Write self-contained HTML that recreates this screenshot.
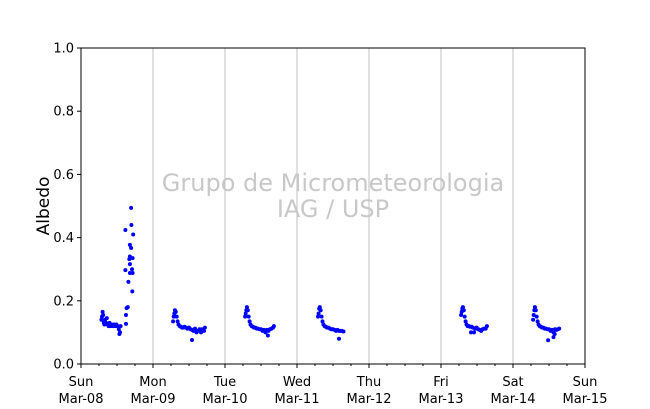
<!DOCTYPE html>
<html><head><meta charset="utf-8"><style>
body{margin:0;background:#fff}
svg{display:block;font-family:"DejaVu Sans","Liberation Sans",sans-serif}
</style></head><body>
<svg id="chart" width="650" height="409">
<rect width="650" height="409" fill="#fff"/>
<g id="grid"></g>
<text x="333" y="191" text-anchor="middle" font-size="24" fill="#c8c8c8">Grupo de Micrometeorologia</text>
<text x="333" y="217" text-anchor="middle" font-size="24" fill="#c8c8c8">IAG / USP</text>
<g id="points"></g>
<rect x="81" y="48" width="504" height="316" fill="none" stroke="#000" stroke-width="1"/>
<g id="axes"></g>
<text transform="translate(49,206) rotate(-90)" text-anchor="middle" font-size="17">Albedo</text>
</svg>
<script>
const dayNames=["Sun","Mon","Tue","Wed","Thu","Fri","Sat","Sun"];
const dayDates=["Mar-08","Mar-09","Mar-10","Mar-11","Mar-12","Mar-13","Mar-14","Mar-15"];
const yTicks=[0,0.2,0.4,0.6,0.8,1.0];
// hours since Mar-08 00:00, albedo
const day0=[[6.8,0.14],[7.0,0.15],[7.2,0.165],[7.4,0.155],[7.6,0.13],[7.8,0.125],[8.0,0.14],[8.3,0.13],[8.6,0.145],[8.9,0.125],[9.2,0.12],[9.5,0.13],[9.8,0.12],[10.2,0.125],[10.6,0.12],[11.0,0.125],[11.4,0.12],[11.8,0.125],[12.2,0.12],[12.6,0.11],[12.8,0.095],[13.0,0.1],[13.2,0.12],[14.8,0.424],[14.8,0.297],[15.0,0.127],[15.0,0.155],[15.2,0.177],[15.6,0.18],[15.8,0.26],[16.3,0.377],[16.3,0.34],[16.1,0.332],[16.3,0.316],[16.3,0.288],[16.7,0.494],[16.8,0.44],[16.7,0.367],[17.2,0.335],[17.0,0.30],[17.2,0.288],[17.1,0.23],[17.4,0.41]];
const day1=[[30.7,0.135],[30.9,0.15],[31.1,0.16],[31.3,0.17],[31.6,0.165],[31.9,0.15],[32.2,0.135],[32.5,0.125],[32.9,0.12],[33.3,0.118],[33.7,0.115],[34.1,0.115],[34.5,0.118],[35,0.115],[35.5,0.112],[36,0.115],[36.5,0.11],[37,0.108],[37.0,0.076],[37.5,0.105],[38,0.112],[38.5,0.1],[39,0.105],[39.5,0.11],[40,0.1],[40.4,0.11],[41,0.105],[41.3,0.115]];
const day2=[[54.7,0.15],[54.9,0.16],[55.1,0.17],[55.3,0.18],[55.6,0.17],[55.9,0.15],[56.2,0.135],[56.5,0.125],[56.9,0.12],[57.3,0.118],[57.7,0.115],[58.1,0.115],[58.6,0.112],[59,0.112],[59.5,0.11],[60,0.11],[60.5,0.105],[61,0.108],[61.5,0.1],[62,0.108],[62.3,0.09],[62.5,0.105],[63,0.11],[63.5,0.112],[64,0.115],[64.3,0.12]];
const day3=[[79.0,0.15],[79.2,0.16],[79.4,0.175],[79.6,0.18],[79.9,0.17],[80.2,0.15],[80.5,0.135],[80.8,0.125],[81.2,0.12],[81.6,0.118],[82,0.115],[82.5,0.115],[83,0.112],[83.5,0.11],[84,0.11],[84.5,0.108],[85,0.105],[85.5,0.108],[86,0.105],[86.0,0.08],[86.5,0.105],[87,0.105],[87.5,0.103]];
const day5=[[126.7,0.155],[126.9,0.165],[127.1,0.175],[127.3,0.18],[127.6,0.17],[127.9,0.15],[128.2,0.135],[128.5,0.125],[128.9,0.12],[129.3,0.12],[129.7,0.118],[130.0,0.1],[130.2,0.118],[130.6,0.115],[131,0.1],[131.4,0.112],[131.9,0.115],[132.4,0.11],[132.9,0.108],[133.4,0.105],[133.9,0.11],[134.4,0.112],[134.9,0.112],[135.3,0.12]];
const day6=[[150.7,0.14],[150.9,0.155],[151.1,0.17],[151.3,0.18],[151.6,0.17],[151.9,0.15],[152.2,0.135],[152.5,0.125],[152.9,0.12],[153.3,0.118],[153.7,0.115],[154.1,0.115],[154.6,0.112],[155,0.112],[155.5,0.11],[155.7,0.075],[156,0.11],[156.5,0.105],[157,0.108],[157.5,0.1],[157.5,0.085],[157.9,0.095],[158,0.11],[158.5,0.108],[159,0.11],[159.4,0.112]];
const series=[day0,day1,day2,day3,day5,day6];

const X0=81,X1=585,Y0=364,Y1=48,H=168;
const xs=h=>X0+(X1-X0)*h/H;
const ys=v=>Y0+(Y1-Y0)*v;
const NS="http://www.w3.org/2000/svg";
function mk(tag,attrs,parent){const e=document.createElementNS(NS,tag);for(const k in attrs)e.setAttribute(k,attrs[k]);parent.appendChild(e);return e;}
const grid=document.getElementById('grid'),axes=document.getElementById('axes'),pts=document.getElementById('points');
for(let d=1;d<7;d++){const l=mk('line',{x1:xs(d*24),x2:xs(d*24),y1:Y1,y2:Y0,stroke:'#c0c0c0','stroke-width':1},grid);

}
for(let d=0;d<=7;d++){const x=xs(d*24);
const t=mk('line',{x1:x,x2:x,y1:Y0,y2:Y0+4,stroke:'#000'},axes);


const a=mk('text',{x:x,y:386,'text-anchor':'middle','font-size':13},axes);a.textContent=dayNames[d];


const b=mk('text',{x:x,y:403,'text-anchor':'middle','font-size':13},axes);b.textContent=dayDates[d];


if(d<7)for(let q=1;q<4;q++){const m=mk('line',{x1:xs(d*24+q*6),x2:xs(d*24+q*6),y1:Y0,y2:Y0+2,stroke:'#000'},axes);

}}
yTicks.forEach(v=>{const y=ys(v);
const t=mk('line',{x1:X0-4,x2:X0,y1:y,y2:y,stroke:'#000'},axes);


const s=mk('text',{x:X0-7,y:y+4.5,'text-anchor':'end','font-size':13},axes);s.textContent=v.toFixed(1);

});
series.forEach(arr=>arr.forEach(p=>{const c=mk('circle',{cx:xs(p[0]),cy:ys(p[1]),r:2,fill:'#0000ff'},pts);

}));
</script>
</body></html>
